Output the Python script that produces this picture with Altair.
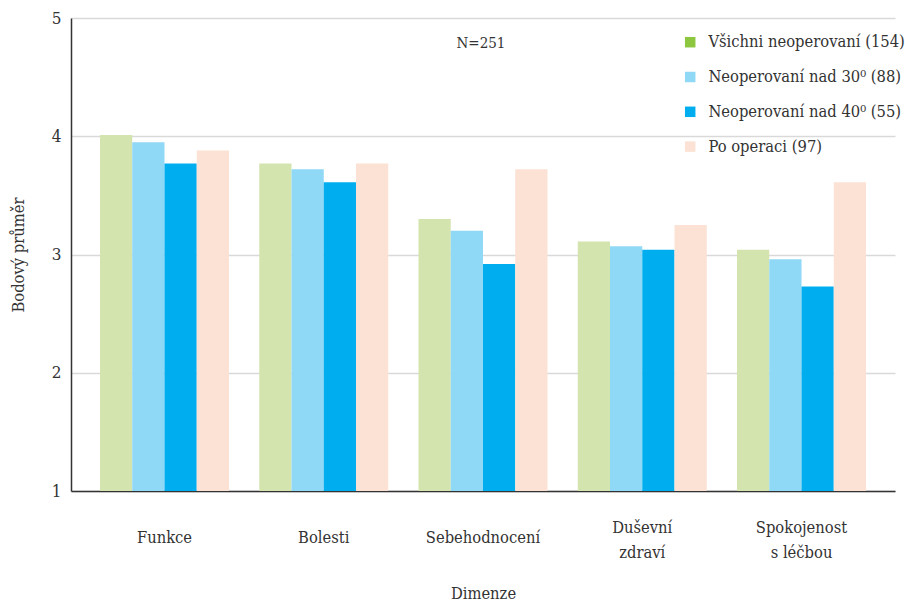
import altair as alt
import pandas as pd

# Dimensions of the questionnaire (x categories)
dimensions = ["Funkce", "Bolesti", "Sebehodnocení", "Duševní zdraví", "Spokojenost s léčbou"]
# Category labels as drawn under the axis (one entry per line)
dimension_lines = [["Funkce"], ["Bolesti"], ["Sebehodnocení"], ["Duševní", "zdraví"], ["Spokojenost", "s léčbou"]]

# Patient groups (series)
groups = [
    "Všichni neoperovaní (154)",
    "Neoperovaní nad 30⁰ (88)",
    "Neoperovaní nad 40⁰ (55)",
    "Po operaci (97)",
]

# Mean scores per dimension for each group
vsichni_neoperovani = [4.01, 3.77, 3.30, 3.11, 3.04]
neoperovani_nad_30 = [3.95, 3.72, 3.20, 3.07, 2.96]
neoperovani_nad_40 = [3.77, 3.61, 2.92, 3.04, 2.73]
po_operaci = [3.88, 3.77, 3.72, 3.25, 3.61]

y_ticks = [1, 2, 3, 4, 5]
note_text = ["N=251"]

bar_colors = ["#d4e4ae", "#8fd8f6", "#00aeef", "#fce2d4"]
legend_colors = ["#8dc63f", "#8fd8f6", "#00aeef", "#fce2d4"]

series = [vsichni_neoperovani, neoperovani_nad_30, neoperovani_nad_40, po_operaci]
rows = []
for g, vals in zip(groups, series):
    for d, v in zip(dimensions, vals):
        rows.append({"dimenze": d, "skupina": g, "prumer": v})
df = pd.DataFrame(rows)

labels_df = pd.DataFrame(
    {
        "dimenze": dimensions,
        "radky": dimension_lines,
        "pocet": [len(l) for l in dimension_lines],
    }
)

FONT = "DejaVu Serif Condensed, DejaVu Serif, Liberation Serif, serif"
TEXT = "#333333"
LABEL_SIZE = 16.4
LINE_H = 25

x_scale = alt.Scale(paddingInner=0.19, paddingOuter=0.182)

x_enc = alt.X(
    "dimenze:N",
    sort=dimensions,
    scale=x_scale,
    axis=alt.Axis(
        title="Dimenze",
        labels=False,
        ticks=False,
        domainColor=TEXT,
        domainWidth=1.5,
        titlePadding=94,
        titleFontSize=16.4,
        titleFontWeight="normal",
    ),
)

y_enc = alt.Y(
    "prumer:Q",
    scale=alt.Scale(domain=[1, 5], zero=False, nice=False),
    axis=alt.Axis(
        title="Bodový průměr",
        values=y_ticks,
        format="d",
        ticks=False,
        labelPadding=10,
        labelFontSize=17,
        grid=True,
        gridColor="#d9d9d9",
        gridWidth=1.5,
        domainColor=TEXT,
        domainWidth=1.5,
        titlePadding=25,
        titleFontSize=16.4,
        titleFontWeight="normal",
    ),
)

bars = alt.Chart(df).mark_bar(width={"band": 1}).encode(
    x=x_enc,
    xOffset=alt.XOffset("skupina:N", sort=groups, scale=alt.Scale(paddingInner=0, paddingOuter=0)),
    y=y_enc,
    y2=alt.datum(1),
    color=alt.Color(
        "skupina:N",
        scale=alt.Scale(domain=groups, range=bar_colors),
        legend=None,
    ),
)

# Category labels: single-line ones centred at one height, two-line ones centred as a block
single_labels = alt.Chart(labels_df).transform_filter("datum.pocet == 1").mark_text(
    font=FONT, fontSize=LABEL_SIZE, color=TEXT, align="center", baseline="middle"
).encode(
    x=alt.X("dimenze:N", sort=dimensions),
    y=alt.value(520),
    text="radky",
)

double_labels = alt.Chart(labels_df).transform_filter("datum.pocet == 2").mark_text(
    font=FONT, fontSize=LABEL_SIZE, color=TEXT, align="center", baseline="top", lineHeight=LINE_H
).encode(
    x=alt.X("dimenze:N", sort=dimensions),
    y=alt.value(522 - LINE_H / 2 - LABEL_SIZE / 2 + 1),
    text="radky",
)

# Invisible layer carrying the legend with its own palette
legend_layer = alt.Chart(df).mark_square(opacity=0, size=1).encode(
    x=alt.X("dimenze:N", sort=dimensions),
    y=alt.Y("prumer:Q"),
    color=alt.Color(
        "skupina:N",
        scale=alt.Scale(domain=groups, range=legend_colors),
        legend=alt.Legend(
            title=None,
            orient="none",
            legendX=611,
            legendY=16,
            padding=0,
            symbolType="square",
            symbolSize=110,
            symbolOpacity=1,
            symbolStrokeWidth=0,
            labelFontSize=16.4,
            labelOffset=10,
            rowPadding=17.8,
            labelLimit=300,
        ),
    ),
)

note = alt.Chart(pd.DataFrame({"t": note_text})).mark_text(
    fontSize=15, font=FONT, color=TEXT, align="center", baseline="middle"
).encode(x=alt.value(410), y=alt.value(25), text="t:N")

chart = (
    alt.layer(bars, single_labels, double_labels, legend_layer, note)
    .resolve_scale(color="independent")
    .properties(
        width=824,
        height=473,
        autosize="none",
        padding={"left": 71, "top": 18, "right": 10, "bottom": 111},
    )
    .configure(font=FONT)
    .configure_view(stroke=None)
    .configure_axis(labelColor=TEXT, titleColor=TEXT, labelFont=FONT, titleFont=FONT)
    .configure_legend(labelColor=TEXT, labelFont=FONT)
)

chart.save("out.html", embed_options={"renderer": "svg", "actions": False})
